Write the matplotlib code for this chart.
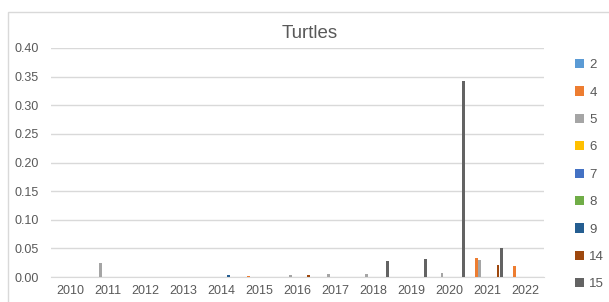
import numpy as np
import matplotlib.pyplot as plt
from matplotlib.patches import Rectangle, Patch

years = [str(y) for y in range(2010, 2023)]
series_names = ['2', '4', '5', '6', '7', '8', '9', '14', '15']
colors = ['#5B9BD5', '#ED7D31', '#A5A5A5', '#FFC000', '#4472C4',
          '#70AD47', '#255E91', '#9E480E', '#636363']

#            2010 2011   2012 2013 2014   2015   2016   2017   2018   2019   2020   2021   2022
s2 =        [0,   0,     0,   0,   0,     0,     0,     0,     0,     0,     0,     0,     0]
s4 =        [0,   0,     0,   0,   0,     0.002, 0,     0,     0,     0,     0,     0.033, 0.020]
s5 =        [0,   0.024, 0,   0,   0,     0,     0.003, 0.006, 0.005, 0,     0.007, 0.030, 0]
s6 =        [0,   0,     0,   0,   0,     0,     0,     0,     0,     0,     0,     0,     0]
s7 =        [0,   0,     0,   0,   0,     0,     0,     0,     0,     0,     0,     0,     0]
s8 =        [0,   0,     0,   0,   0,     0,     0,     0,     0,     0,     0,     0,     0]
s9 =        [0,   0,     0,   0,   0.003, 0,     0,     0,     0,     0,     0,     0,     0]
s14 =       [0,   0,     0,   0,   0,     0,     0.003, 0,     0,     0,     0,     0.021, 0]
s15 =       [0,   0,     0,   0,   0,     0,     0,     0,     0.028, 0.031, 0.342, 0.050, 0]
series = [s2, s4, s5, s6, s7, s8, s9, s14, s15]

plt.rcParams['font.family'] = ['Liberation Sans', 'DejaVu Sans']
text_color = '#595959'

fig = plt.figure(figsize=(6.09, 3.02), dpi=100)
# chart area border
fig.patches.append(Rectangle((8 / 609, -0.1), 1.0, 1 - 12 / 302 + 0.1,
                             transform=fig.transFigure, fill=False,
                             edgecolor='#d9d9d9', linewidth=1))

ax = fig.add_axes([51 / 609, 25 / 302, 493 / 609, 229 / 302])
x = np.arange(len(years))
step = 0.095
for i, (vals, c) in enumerate(zip(series, colors)):
    ax.bar(x + (i - 4) * step, vals, width=0.075, color=c, zorder=3)

ax.set_xlim(-0.5, len(years) - 0.5)
ax.set_ylim(0, 0.40)
ax.set_yticks(np.arange(0, 0.41, 0.05))
ax.set_yticklabels([f'{v:.2f}' for v in np.arange(0, 0.41, 0.05)])
ax.set_xticks(x)
ax.set_xticklabels(years)
ax.tick_params(length=0, labelsize=9, colors=text_color)
ax.tick_params(axis='y', pad=9)
ax.tick_params(axis='x', pad=6)
ax.grid(axis='y', color='#d9d9d9', linewidth=1, zorder=0)
for s in ['top', 'right', 'left']:
    ax.spines[s].set_visible(False)
ax.spines['bottom'].set_color('#d9d9d9')

fig.text(310 / 609, 1 - 34 / 302, 'Turtles', ha='center', va='center',
         fontsize=13.5, color=text_color)

handles = [Patch(facecolor=c, edgecolor='none') for c in colors]
fig.legend(handles, series_names, loc='upper left',
           bbox_to_anchor=(563 / 609, 1 - 47 / 302), frameon=False,
           fontsize=9.5, labelcolor=text_color, handlelength=0.7,
           handleheight=0.7, handletextpad=0.4, labelspacing=1.15)

fig.savefig('out.png', dpi=100)
